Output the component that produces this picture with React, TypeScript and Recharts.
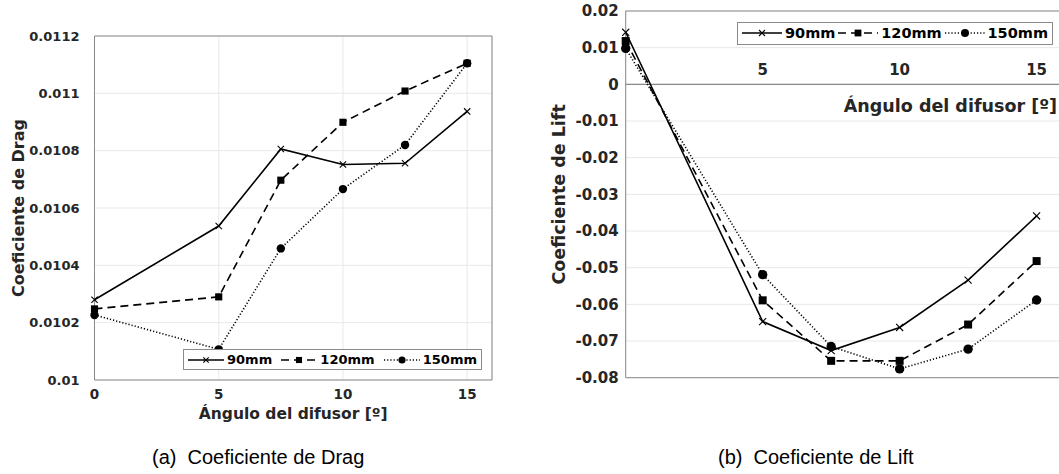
import { LineChart, Line, XAxis, YAxis, CartesianGrid, ReferenceArea, ReferenceLine, ReferenceDot, Legend } from 'recharts';

const angles = [0, 5, 7.5, 10, 12.5, 15];

const drag90 = [0.01028, 0.010537, 0.010806, 0.010752, 0.010756, 0.010937];
const drag120 = [0.010248, 0.01029, 0.010697, 0.010899, 0.011008, 0.011105];
const drag150 = [0.010227, 0.010107, 0.010459, 0.010666, 0.01082, 0.011105];

const lift90 = [0.0142, -0.0647, -0.0726, -0.0663, -0.0534, -0.0359];
const lift120 = [0.0118, -0.0589, -0.0754, -0.0754, -0.0655, -0.0482];
const lift150 = [0.0098, -0.0519, -0.0715, -0.0776, -0.0722, -0.0588];

const seriesNames = ['90mm', '120mm', '150mm'];
const dragTicks = [0.01, 0.0102, 0.0104, 0.0106, 0.0108, 0.011, 0.0112];
const liftTicks = [-0.08, -0.07, -0.06, -0.05, -0.04, -0.03, -0.02, -0.01, 0, 0.01, 0.02];
const dragAngleTicks = [0, 5, 10, 15];
const liftAngleTicks = [5, 10, 15];

const xTitle = 'Ángulo del difusor [º]';
const dragTitle = 'Coeficiente de Drag';
const liftTitle = 'Coeficiente de Lift';
const captionA = '(a)  Coeficiente de Drag';
const captionB = '(b)  Coeficiente de Lift';

const dragData = angles.map((a, i) => ({ angle: a, s90: drag90[i], s120: drag120[i], s150: drag150[i] }));
const liftData = angles.map((a, i) => ({ angle: a, s90: lift90[i], s120: lift120[i], s150: lift150[i] }));

const TXT = '#262626';
const FONT = "'DejaVu Sans', sans-serif";
const BOX = '#8a8a8a';
const GRID = '#e8e8e8';

const dashes = ['', '8 5', '1.2 2'];

const tickStyle = (size: number) => ({
  fill: TXT,
  fontFamily: FONT,
  fontWeight: 700,
  fontSize: size,
  style: { fontFamily: FONT, fontWeight: 700, fontSize: `${size}px` },
});

function Marker({ kind, cx, cy, s }: { kind: number; cx: number; cy: number; s: number }) {
  if (kind === 0) {
    const h = s * 0.75;
    return <path d={`M${cx - h},${cy - h}L${cx + h},${cy + h}M${cx - h},${cy + h}L${cx + h},${cy - h}`} stroke="#000" strokeWidth={1.1} fill="none" />;
  }
  if (kind === 1) {
    const h = s * 0.85;
    return <rect x={cx - h} y={cy - h} width={2 * h} height={2 * h} fill="#000" />;
  }
  return <circle cx={cx} cy={cy} r={s} fill="#000" />;
}

function LegendBox({ fontSize, sample, size, width }: { fontSize: number; sample: number; size: number; width: number }) {
  return (
    <div style={{ display: 'flex', alignItems: 'center', justifyContent: 'space-between', boxSizing: 'border-box', width, border: `1px solid ${BOX}`, background: '#fff', padding: '1px 4px', fontFamily: FONT, fontWeight: 700, fontSize, color: '#000', lineHeight: `${fontSize + 4}px` }}>
      {seriesNames.map((n, k) => (
        <div key={n} style={{ display: 'flex', alignItems: 'center' }}>
          <svg width={sample} height={12} style={{ marginRight: 3 }}>
            <line x1={0} y1={6} x2={sample} y2={6} stroke="#000" strokeWidth={1.5} strokeDasharray={dashes[k] || undefined} />
            <Marker kind={k} cx={sample / 2} cy={6} s={size} />
          </svg>
          <span>{n}</span>
        </div>
      ))}
    </div>
  );
}

function seriesLines(size: number) {
  return ['s90', 's120', 's150'].map((key, k) => (
    <Line
      key={key}
      dataKey={key}
      name={seriesNames[k]}
      type="linear"
      stroke="#000"
      strokeWidth={1.6}
      strokeDasharray={dashes[k] || undefined}
      isAnimationActive={false}
      activeDot={false}
      dot={(p: any) => <Marker key={`${key}-${p.index}`} kind={k} cx={p.cx} cy={p.cy} s={size} />}
    />
  ));
}

export default function App() {
  return (
    <div style={{ position: 'fixed', left: 0, top: 0, width: 1059, height: 474, overflow: 'hidden', background: '#fff' }}>
      <div style={{ position: 'absolute', left: 0, top: 0 }}>
        <LineChart width={500} height={432} data={dragData} margin={{ top: 36, right: 8, left: 0, bottom: 0 }}>
          <CartesianGrid stroke={GRID} />
          <XAxis
            dataKey="angle"
            type="number"
            domain={[0, 16]}
            ticks={dragAngleTicks}
            height={52}
            axisLine={false}
            tickLine={false}
            tickSize={0}
            tickMargin={9}
            fontSize={13.5}
            fontFamily={FONT}
            fontWeight={700}
            tick={tickStyle(13.5)}
            label={{ value: xTitle, position: 'insideBottom', offset: 13, fill: TXT, fontFamily: FONT, fontWeight: 700, fontSize: 15.5 }}
          />
          <YAxis
            type="number"
            domain={[0.01, 0.0112]}
            ticks={dragTicks}
            width={94.5}
            axisLine={false}
            tickLine={false}
            tickSize={0}
            tickMargin={15}
            fontSize={13}
            fontFamily={FONT}
            fontWeight={700}
            tickFormatter={(v: number) => String(+v.toFixed(4))}
            tick={tickStyle(13)}
            label={{ value: dragTitle, angle: -90, position: 'insideLeft', offset: 18, fill: TXT, fontFamily: FONT, fontWeight: 700, fontSize: 16, style: { textAnchor: 'middle' } }}
          />
          <ReferenceArea x1={0} x2={16} y1={0.01} y2={0.0112} fill="none" stroke={BOX} strokeWidth={1} />
          {seriesLines(4.2)}
          <Legend
            layout="horizontal"
            verticalAlign="middle"
            align="center"
            wrapperStyle={{ left: 183, top: 349, width: 299 }}
            content={() => <LegendBox fontSize={13} sample={36} size={3.6} width={299} />}
          />
        </LineChart>
      </div>

      <div style={{ position: 'absolute', left: 540, top: 0 }}>
        <LineChart width={530} height={420} data={liftData} margin={{ top: 11, right: 6, left: 0, bottom: 42.3 }}>
          <CartesianGrid stroke={GRID} />
          <XAxis dataKey="angle" type="number" domain={[0, 16]} ticks={liftAngleTicks} height={0} axisLine={false} tickLine={false} tick={false} />
          <YAxis
            type="number"
            domain={[-0.08, 0.02]}
            ticks={liftTicks}
            width={85.7}
            axisLine={false}
            tickLine={false}
            tickSize={0}
            tickMargin={7}
            fontSize={15}
            fontFamily={FONT}
            fontWeight={700}
            tickFormatter={(v: number) => String(+v.toFixed(2))}
            tick={tickStyle(15)}
            label={{ value: liftTitle, angle: -90, position: 'insideLeft', offset: 19, fill: TXT, fontFamily: FONT, fontWeight: 700, fontSize: 17.5, style: { textAnchor: 'middle' } }}
          />
          <ReferenceArea x1={0} x2={16} y1={-0.08} y2={0.02} fill="none" stroke={BOX} strokeWidth={1} />
          <ReferenceLine y={0} stroke={BOX} strokeWidth={1.2} />
          {liftAngleTicks.map((t) => (
            <ReferenceDot
              key={t}
              x={t}
              y={0}
              r={0}
              fill="none"
              stroke="none"
              label={{ value: String(t), position: 'top', offset: 9, fill: TXT, fontFamily: FONT, fontWeight: 700, fontSize: 15 }}
            />
          ))}
          {seriesLines(4.7)}
          <Legend
            layout="horizontal"
            verticalAlign="middle"
            align="center"
            wrapperStyle={{ left: 197, top: 22, width: 316 }}
            content={() => <LegendBox fontSize={14.5} sample={40} size={4} width={316} />}
          />
        </LineChart>
      </div>

      <div style={{ position: 'absolute', right: 2, top: 95, fontFamily: FONT, fontWeight: 700, fontSize: 17.5, color: TXT, whiteSpace: 'nowrap', lineHeight: '22px' }}>
        {xTitle}
      </div>

      <div style={{ position: 'absolute', left: 152, top: 446, fontFamily: "'Liberation Sans', Arial, sans-serif", fontSize: 20, color: '#000', whiteSpace: 'pre', lineHeight: '22px' }}>
        {captionA}
      </div>
      <div style={{ position: 'absolute', left: 718, top: 446, fontFamily: "'Liberation Sans', Arial, sans-serif", fontSize: 20, color: '#000', whiteSpace: 'pre', lineHeight: '22px' }}>
        {captionB}
      </div>
    </div>
  );
}
